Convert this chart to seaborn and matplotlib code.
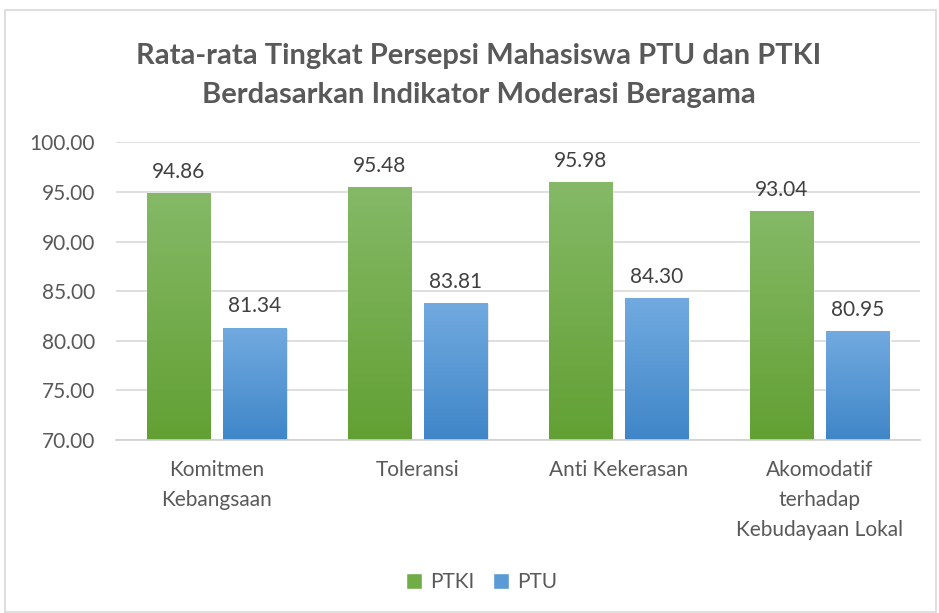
import numpy as np
import pandas as pd
import matplotlib.pyplot as plt
import seaborn as sns
from matplotlib.patches import Rectangle
from matplotlib.colors import LinearSegmentedColormap

categories = ["Komitmen\nKebangsaan", "Toleransi", "Anti Kekerasan",
              "Akomodatif\nterhadap\nKebudayaan Lokal"]
ptki = [94.86, 95.48, 95.98, 93.04]
ptu = [81.34, 83.81, 84.30, 80.95]
series = ["PTKI", "PTU"]

df = pd.DataFrame({
    "kategori": categories * 2,
    "nilai": ptki + ptu,
    "kelompok": ["PTKI"] * 4 + ["PTU"] * 4,
})

sns.set_style("white")
plt.rcParams['font.family'] = ['Lato', 'DejaVu Sans']
txt = "#595959"
fs = 15

fig = plt.figure(figsize=(9.39, 6.13), dpi=100)
ax = fig.add_axes([0.1235, 0.282, 0.8565, 0.486])

palette = {"PTKI": "#70ad47", "PTU": "#5b9bd5"}
sns.barplot(data=df, x="kategori", y="nilai", hue="kelompok", palette=palette,
            width=0.76, gap=0.17, ax=ax, legend=False, saturation=1)

grads = {"PTKI": ("#85b967", "#62a033"), "PTU": ("#72aae0", "#3f86c8")}
for cont, name in zip(ax.containers, series):
    cmap = LinearSegmentedColormap.from_list(name, [grads[name][1], grads[name][0]])
    for bar in cont:
        x0, w, h = bar.get_x(), bar.get_width(), bar.get_height()
        # soft shadow
        sh = Rectangle((x0 + 0.006, 70), w, h - 70 + bar.get_y() - 0.15,
                       facecolor="#000000", alpha=0.12, edgecolor="none", zorder=1.5)
        ax.add_patch(sh)
        bar.set_zorder(2)
        grad = np.linspace(0, 1, 256).reshape(-1, 1)
        im = ax.imshow(grad, extent=[x0, x0 + w, 70, h], origin="lower",
                       aspect="auto", cmap=cmap, zorder=2.1)
        im.set_clip_path(bar)
        ax.annotate(f"{h:.2f}", (x0 + w / 2, h), xytext=(0, 8),
                    textcoords="offset points", ha="center", va="bottom",
                    fontsize=fs, color="#404040")

ax.set_xlim(-0.5, 3.5)
ax.set_ylim(70, 100)
ax.set_yticks(np.arange(70, 101, 5))
ax.set_yticklabels([f"{v:.2f}" for v in np.arange(70, 101, 5)])
ax.yaxis.grid(True, color="#d9d9d9", linewidth=1.2)
ax.set_axisbelow(True)
ax.set_xlabel("")
ax.set_ylabel("")
for s in ["top", "right", "left"]:
    ax.spines[s].set_visible(False)
ax.spines["bottom"].set_color("#d0d0d0")
ax.spines["bottom"].set_linewidth(1.2)
ax.tick_params(axis="y", length=0, pad=15, labelsize=fs, labelcolor=txt)
ax.tick_params(axis="x", length=0, pad=14, labelsize=fs, labelcolor=txt)
for lab in ax.get_xticklabels():
    lab.set_linespacing(1.65)

fig.text(0.51, 0.877, "Rata-rata Tingkat Persepsi Mahasiswa PTU dan PTKI\nBerdasarkan Indikator Moderasi Beragama",
         ha="center", va="center", fontsize=21, fontweight="bold", color=txt,
         linespacing=1.6)

handles = [Rectangle((0, 0), 1, 1, facecolor=palette[s]) for s in series]
fig.legend(handles, series, loc="center", bbox_to_anchor=(0.513, 0.05), ncol=2,
           frameon=False, fontsize=fs, labelcolor=txt, handlelength=0.75,
           handleheight=0.75, handletextpad=0.4, columnspacing=0.9)

fig.patches.append(Rectangle((5 / 939, 0.002), 0.997 - 5 / 939, 1 - 10 / 613 - 0.002,
                             transform=fig.transFigure, fill=False,
                             edgecolor="#d9d9d9", linewidth=1.2))

fig.savefig("out.png", dpi=100)
